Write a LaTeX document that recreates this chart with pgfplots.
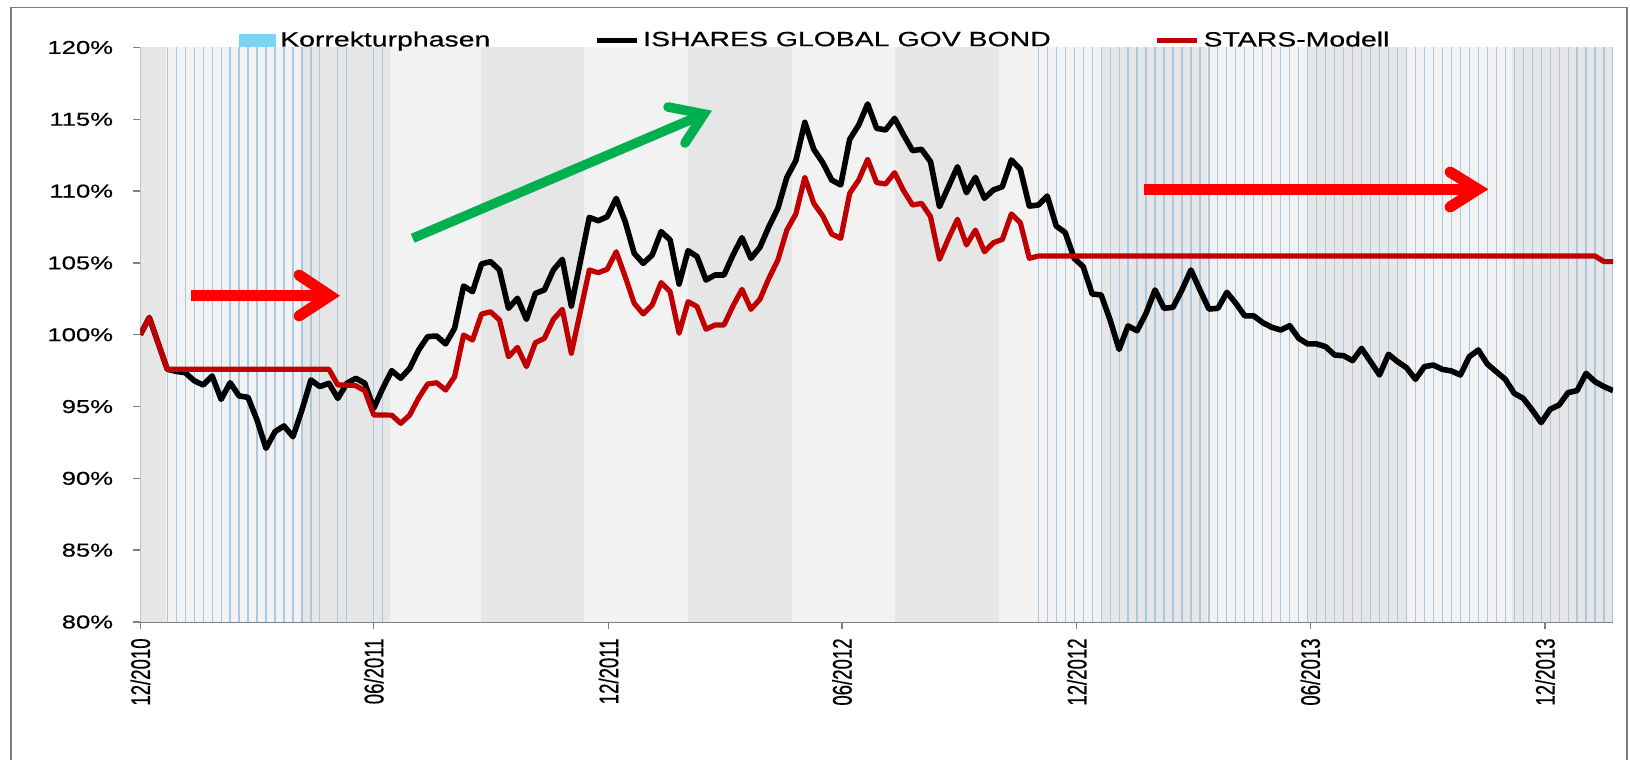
\documentclass[border=0pt]{standalone}
\usepackage{fontspec}
\setmainfont{Liberation Sans}[FakeStretch=1.38, FakeBold=0.6]
\newfontfamily\plainfont{Liberation Sans}[FakeBold=0.6]
\usepackage{graphicx}
\usepackage{pgfplots}
\pgfplotsset{compat=1.18}
\usepackage{pgfplotstable}

\definecolor{bandA}{HTML}{E6E6E6}
\definecolor{bandB}{HTML}{F2F2F2}
\definecolor{kline}{HTML}{A7C9E6}
\definecolor{kleg}{HTML}{7DD3F7}
\definecolor{starsred}{HTML}{C00000}
\definecolor{arrowred}{HTML}{FF0000}
\definecolor{arrowgreen}{HTML}{00B050}
\definecolor{framegray}{HTML}{7F7F7F}
\definecolor{axisgray}{HTML}{808080}

\newcommand{\sx}[1]{\scalebox{1}[1.45]{#1}}

% week index (0 = 12/2010), value in %
\pgfplotstableread{
w v
0 100.0
1 101.2
2 99.4
3 97.6
4 97.45
5 97.36
6 96.80
7 96.50
8 97.13
9 95.50
10 96.66
11 95.74
12 95.64
13 94.06
14 92.09
15 93.25
16 93.65
17 92.90
18 94.76
19 96.85
20 96.39
21 96.62
22 95.57
23 96.62
24 96.97
25 96.62
26 94.88
27 96.27
28 97.50
29 96.97
30 97.66
31 98.94
32 99.87
33 99.91
34 99.36
35 100.45
36 103.39
37 103.00
38 104.93
39 105.09
40 104.51
41 101.84
42 102.54
43 101.07
44 102.88
45 103.12
46 104.51
47 105.25
48 102.00
49 105.09
50 108.17
51 107.94
52 108.22
53 109.50
54 107.87
55 105.67
56 104.97
57 105.55
58 107.18
59 106.60
60 103.53
61 105.85
62 105.44
63 103.81
64 104.16
65 104.16
66 105.55
67 106.76
68 105.32
69 106.09
70 107.53
71 108.80
72 110.96
73 112.12
74 114.79
75 112.91
76 111.98
77 110.77
78 110.43
79 113.61
80 114.60
81 116.07
82 114.37
83 114.26
84 115.07
85 113.91
86 112.82
87 112.91
88 112.05
89 108.92
90 110.31
91 111.70
92 109.89
93 110.96
94 109.50
95 110.08
96 110.31
97 112.17
98 111.52
99 108.96
100 109.03
101 109.66
102 107.57
103 107.11
104 105.32
105 104.74
106 102.84
107 102.77
108 101.03
109 98.98
110 100.61
111 100.28
112 101.49
113 103.12
114 101.84
115 101.91
116 103.12
117 104.51
118 103.12
119 101.79
120 101.84
121 102.95
122 102.19
123 101.31
124 101.31
125 100.84
126 100.52
127 100.33
128 100.63
129 99.75
130 99.36
131 99.36
132 99.17
133 98.59
134 98.54
135 98.20
136 99.05
137 98.13
138 97.20
139 98.64
140 98.13
141 97.71
142 96.90
143 97.78
144 97.89
145 97.59
146 97.48
147 97.20
148 98.47
149 98.94
150 97.96
151 97.43
152 96.90
153 95.92
154 95.57
155 94.76
156 93.88
157 94.81
158 95.11
159 95.97
160 96.11
161 97.31
162 96.73
163 96.39
164 96.11
}\ishares

\pgfplotstableread{
w v
0 100.0
1 101.2
2 99.4
3 97.6
21 97.6
22 96.5
23 96.5
24 96.45
25 96.1
26 94.41
27 94.41
28 94.4
29 93.83
30 94.41
31 95.6
32 96.57
33 96.66
34 96.15
35 97.08
36 99.98
37 99.63
38 101.44
39 101.6
40 101.03
41 98.47
42 99.12
43 97.78
44 99.45
45 99.75
46 101.07
47 101.77
48 98.71
49 101.6
50 104.51
51 104.32
52 104.56
53 105.78
54 104.04
55 102.19
56 101.45
57 102.07
58 103.63
59 103.00
60 100.10
61 102.30
62 101.96
63 100.38
64 100.68
65 100.68
66 102.00
67 103.16
68 101.77
69 102.47
70 103.93
71 105.20
72 107.29
73 108.41
74 110.96
75 109.15
76 108.27
77 107.01
78 106.71
79 109.85
80 110.77
81 112.21
82 110.59
83 110.50
84 111.28
85 110.03
86 109.03
87 109.15
88 108.22
89 105.25
90 106.71
91 108.04
92 106.25
93 107.29
94 105.78
95 106.41
96 106.64
97 108.41
98 107.80
99 105.32
100 105.48
162 105.48
163 105.09
164 105.09
}\stars

\begin{document}
\begin{tikzpicture}
\useasboundingbox (0,0) rectangle (815pt,380pt);
\begin{axis}[
  at={(70.15pt,69pt)}, anchor=south west,
  width=736.35pt, height=287.25pt, scale only axis,
  xmin=0, xmax=164, ymin=80, ymax=120,
  axis x line*=bottom, axis y line*=left,
  axis line style={-, axisgray, line width=0.7pt},
  tick align=outside, major tick length=3.5pt,
  tick style={axisgray, line width=0.7pt},
  xtick={0,26,52.143,78.143,104.286,130.286,156.429},
  xticklabels={\sx{12/2010},\sx{06/2011},\sx{12/2011},\sx{06/2012},\sx{12/2012},\sx{06/2013},\sx{12/2013}},
  xticklabel shift=4.5pt,
  xticklabel style={rotate=90, anchor=east, inner sep=0pt,
    font=\plainfont\fontsize{9.3}{11}\selectfont},
  ytick={80,85,90,95,100,105,110,115,120},
  yticklabels={80\%,85\%,90\%,95\%,100\%,105\%,110\%,115\%,120\%},
  yticklabel shift=9.9pt,
  yticklabel style={anchor=east, inner sep=0pt, font=\fontsize{9.3}{11}\selectfont},
  legend columns=3,
  legend style={at={(0.06675,1.0122)}, anchor=west, draw=none, fill=none,
    inner sep=0pt, font=\fontsize{10.3}{12}\selectfont,
    /tikz/every even column/.append style={column sep=50pt},
    nodes={inner xsep=2pt, inner ysep=0pt}},
  legend cell align=left,
]
% background bands
\fill[bandA] (axis cs:0,80) rectangle (axis cs:2.9,120);
\fill[bandB] (axis cs:2.9,80) rectangle (axis cs:18.1,120);
\fill[bandA] (axis cs:18.1,80) rectangle (axis cs:27.8,120);
\fill[bandB] (axis cs:27.8,80) rectangle (axis cs:37.9,120);
\fill[bandA] (axis cs:37.9,80) rectangle (axis cs:49.4,120);
\fill[bandB] (axis cs:49.4,80) rectangle (axis cs:61.0,120);
\fill[bandA] (axis cs:61.0,80) rectangle (axis cs:72.6,120);
\fill[bandB] (axis cs:72.6,80) rectangle (axis cs:84.0,120);
\fill[bandA] (axis cs:84.0,80) rectangle (axis cs:95.6,120);
\fill[bandB] (axis cs:95.6,80) rectangle (axis cs:107.1,120);
\fill[bandA] (axis cs:107.1,80) rectangle (axis cs:118.8,120);
\fill[bandB] (axis cs:118.8,80) rectangle (axis cs:129.9,120);
\fill[bandA] (axis cs:129.9,80) rectangle (axis cs:141.0,120);
\fill[bandB] (axis cs:141.0,80) rectangle (axis cs:152.7,120);
\fill[bandA] (axis cs:152.7,80) rectangle (axis cs:164,120);

% Korrekturphasen
\addplot[ycomb, draw=kline, line width=0.6pt, mark=none,
  legend image code/.code={\fill[kleg] (0pt,-2.75pt) rectangle (18pt,2.75pt);}]
  coordinates {
  (3,120) (4,120) (5,120) (6,120) (7,120) (8,120) (9,120) (10,120) (11,120)
  (12,120) (13,120) (14,120) (15,120) (16,120) (17,120) (18,120) (19,120) (20,120)
  (22,120) (23,120) (26,120) (27,120)
  (100,120) (101,120) (102,120) (103,120) (104,120) (105,120) (106,120) (107,120)
  (108,120) (109,120) (110,120) (111,120) (112,120) (113,120) (114,120) (115,120)
  (116,120) (117,120) (118,120) (119,120) (120,120) (121,120) (122,120) (123,120)
  (124,120) (125,120) (126,120) (127,120) (128,120) (129,120) (130,120) (131,120)
  (132,120) (133,120) (134,120) (135,120) (136,120) (137,120) (138,120) (139,120)
  (140,120) (141,120) (142,120) (143,120) (144,120) (145,120) (146,120) (147,120)
  (148,120) (149,120) (150,120) (151,120) (152,120) (153,120) (154,120) (155,120)
  (156,120) (157,120) (158,120) (159,120) (160,120) (161,120) (162,120) (163,120)
  (163.9,120)};
\addlegendentry{Korrekturphasen}

\addplot[black, line width=2.8pt, line join=round, mark=none,
  legend image code/.code={\draw[black, line width=2.4pt] (0pt,0pt) -- (20pt,0pt);}]
  table[x=w, y=v] {\ishares};
\addlegendentry{ISHARES GLOBAL GOV BOND}

\addplot[starsred, line width=2.6pt, line join=round, mark=none,
  legend image code/.code={\draw[starsred, line width=2.4pt] (0pt,0pt) -- (20pt,0pt);}]
  table[x=w, y=v] {\stars};
\addlegendentry{STARS-Modell}
\end{axis}

% annotation arrows and frame (pixel-based coordinates)
\begin{scope}[x=0.5pt, y=-0.5pt, shift={(0pt,380pt)}]
\draw[arrowred, line width=5.5pt] (190.6,295.7) -- (330,295.7);
\draw[arrowred, line width=5.5pt, line cap=round, line join=miter] (299,275) -- (330,295.7) -- (299,316);
\draw[arrowgreen, line width=4.8pt] (412.7,238.3) -- (704,114);
\draw[arrowgreen, line width=4.8pt, line cap=round, line join=miter] (668,107) -- (704,114) -- (685,143);
\draw[arrowred, line width=5.3pt] (1143.5,189.3) -- (1478,189.3);
\draw[arrowred, line width=5.5pt, line cap=round, line join=miter] (1450,172) -- (1478,189.3) -- (1450,207);
\draw[framegray, line width=0.8pt] (11,762) -- (11,7.5) -- (1627,7.5) -- (1627,762);
\end{scope}
\end{tikzpicture}
\end{document}
